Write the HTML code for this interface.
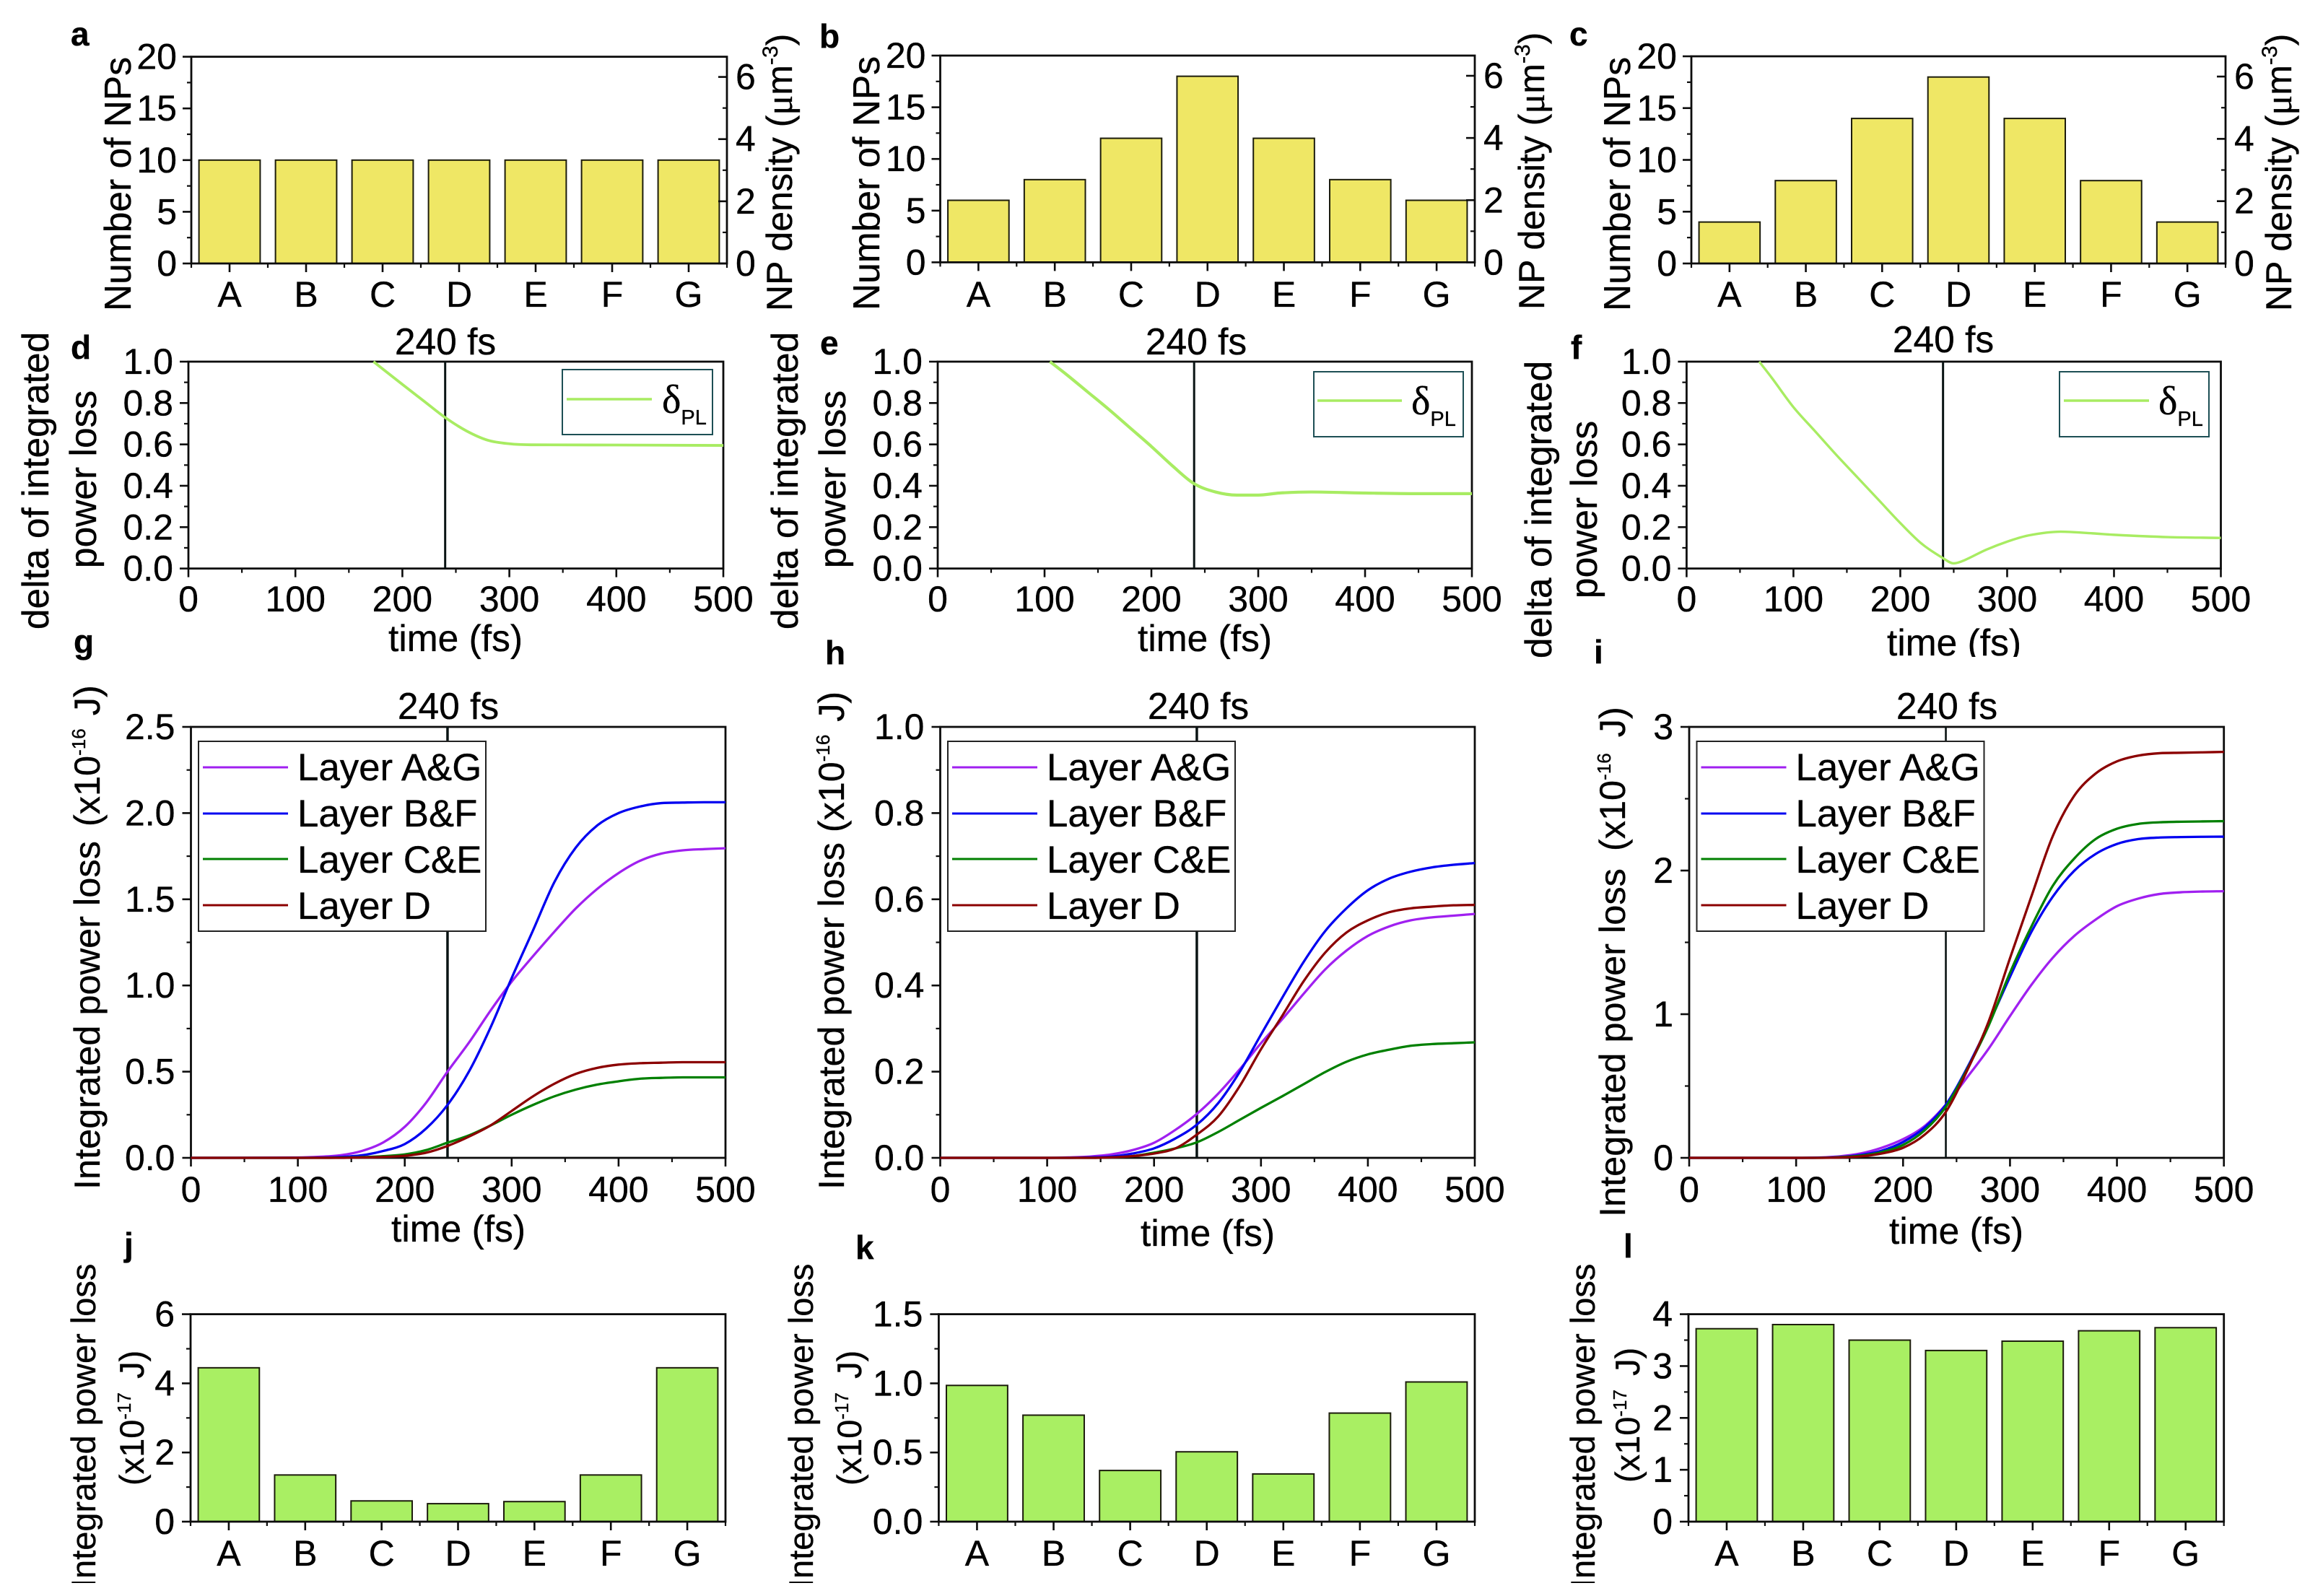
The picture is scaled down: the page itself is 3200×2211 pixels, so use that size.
<!DOCTYPE html>
<html lang="en">
<head>
<meta charset="utf-8">
<title>Nanoparticle layer distributions and integrated power loss</title>
<style>
html,body{margin:0;padding:0;background:#fff;}
svg{display:block;}
text{font-family:"Liberation Sans",sans-serif;fill:#000;stroke:#000;stroke-width:.35px;}
.tick{font-size:50px;}
.title{font-size:51.5px;}
.title4{font-size:47px;}
.letter{font-size:46px;font-weight:bold;}
.leg{font-size:52.8px;}
.serif{font-family:"Liberation Serif",serif;}
</style>
</head>
<body>
<svg id="figure" xmlns="http://www.w3.org/2000/svg" width="3200" height="2211" viewBox="0 0 3200 2211">
<rect width="3200" height="2211" fill="#fff"/>

<!-- Panel letters -->
<text class="letter" x="98" y="63">a</text>
<text class="letter" x="1135" y="66">b</text>
<text class="letter" x="2174" y="63">c</text>
<text class="letter" x="98" y="497">d</text>
<text class="letter" x="1136" y="491">e</text>
<text class="letter" x="2176" y="497">f</text>
<text class="letter" x="102" y="905">g</text>
<text class="letter" x="1143" y="920">h</text>
<text class="letter" x="2208" y="919">i</text>
<text class="letter" x="172" y="1740">j</text>
<text class="letter" x="1185" y="1744">k</text>
<text class="letter" x="2249" y="1742">l</text>

<!-- Panel groups: marks and axes are drawn by the script -->
<g id="panel-a"></g>
<g id="panel-b"></g>
<g id="panel-c"></g>
<g id="panel-d"></g>
<g id="panel-e"></g>
<g id="panel-f"></g>
<g id="panel-g"></g>
<g id="panel-h"></g>
<g id="panel-i"></g>
<g id="panel-j"></g>
<g id="panel-k"></g>
<g id="panel-l"></g>

<!-- Row 1 axis titles -->
<text class="title" text-anchor="middle" transform="translate(181,255) rotate(-90)">Number of NPs</text>
<text class="title" text-anchor="middle" transform="translate(1218,254) rotate(-90)">Number of NPs</text>
<text class="title" text-anchor="middle" transform="translate(2258,255) rotate(-90)">Number of NPs</text>
<text font-size="50" transform="translate(1097,431) rotate(-90)">NP density (<tspan class="serif" font-size="52">μ</tspan>m<tspan font-size="30" dy="-20">-3</tspan><tspan dy="20">)</tspan></text>
<text font-size="50" transform="translate(2139,429) rotate(-90)">NP density (<tspan class="serif" font-size="52">μ</tspan>m<tspan font-size="30" dy="-20">-3</tspan><tspan dy="20">)</tspan></text>
<text font-size="50" transform="translate(3174,431) rotate(-90)">NP density (<tspan class="serif" font-size="52">μ</tspan>m<tspan font-size="30" dy="-20">-3</tspan><tspan dy="20">)</tspan></text>

<!-- Row 2 axis titles -->
<text class="title" text-anchor="middle" transform="translate(67,666) rotate(-90)">delta of integrated</text>
<text class="title" text-anchor="middle" transform="translate(133,664) rotate(-90)">power loss</text>
<text class="title" text-anchor="middle" transform="translate(1105,666) rotate(-90)">delta of integrated</text>
<text class="title" text-anchor="middle" transform="translate(1171,664) rotate(-90)">power loss</text>
<text class="title" text-anchor="middle" transform="translate(2149,706) rotate(-90)">delta of integrated</text>
<text class="title" text-anchor="middle" transform="translate(2212,706) rotate(-90)">power loss</text>
<text class="title" text-anchor="middle" x="631" y="902">time (fs)</text>
<text class="title" text-anchor="middle" x="1669" y="902">time (fs)</text>
<text class="title" text-anchor="middle" x="2707" y="908">time (fs)</text>
<rect x="2600" y="910" width="230" height="12" fill="#fff"/>
<text class="title" text-anchor="middle" x="617" y="491">240 fs</text>
<text class="title" text-anchor="middle" x="1657" y="491">240 fs</text>
<text class="title" text-anchor="middle" x="2692" y="488">240 fs</text>

<!-- Delta legends -->
<g>
  <rect x="779" y="512" width="208" height="90" fill="#fff" stroke="#1d4f55" stroke-width="2"/>
  <line x1="785" y1="553" x2="903" y2="553" stroke="#a8ec62" stroke-width="3.5"/>
  <text class="serif" x="917" y="572" font-size="56">δ<tspan font-family="Liberation Sans" font-size="29" dy="16">PL</tspan></text>
</g>
<g>
  <rect x="1820" y="515" width="207" height="90" fill="#fff" stroke="#1d4f55" stroke-width="2"/>
  <line x1="1825" y1="555" x2="1942" y2="555" stroke="#a8ec62" stroke-width="3.5"/>
  <text class="serif" x="1955" y="574" font-size="56">δ<tspan font-family="Liberation Sans" font-size="29" dy="16">PL</tspan></text>
</g>
<g>
  <rect x="2853" y="515" width="207" height="90" fill="#fff" stroke="#1d4f55" stroke-width="2"/>
  <line x1="2859" y1="555" x2="2977" y2="555" stroke="#a8ec62" stroke-width="3.5"/>
  <text class="serif" x="2990" y="574" font-size="56">δ<tspan font-family="Liberation Sans" font-size="29" dy="16">PL</tspan></text>
</g>

<!-- Row 3 axis titles -->
<text font-size="50.5" transform="translate(138,1648) rotate(-90)">Integrated power loss<tspan dx="6"> (x10</tspan><tspan font-size="26" dy="-20">-16</tspan><tspan dy="20" dx="4"> J)</tspan></text>
<text font-size="50.3" transform="translate(1169,1648) rotate(-90)">Integrated power loss (x10<tspan font-size="26" dy="-20">-16</tspan><tspan dy="20" dx="4"> J)</tspan></text>
<text font-size="50.5" transform="translate(2251,1686) rotate(-90)">Integrated power loss<tspan dx="10"> (x10</tspan><tspan font-size="26" dy="-20">-16</tspan><tspan dy="20" dx="8"> J)</tspan></text>
<text class="title" text-anchor="middle" x="635" y="1720">time (fs)</text>
<text class="title" text-anchor="middle" x="1673" y="1726">time (fs)</text>
<text class="title" text-anchor="middle" x="2710" y="1723">time (fs)</text>
<text class="title" text-anchor="middle" x="621" y="996">240 fs</text>
<text class="title" text-anchor="middle" x="1660" y="996">240 fs</text>
<text class="title" text-anchor="middle" x="2697" y="996">240 fs</text>

<!-- Layer legends -->
<g>
  <rect x="275" y="1027" width="398" height="263" fill="#fff" stroke="#222" stroke-width="2"/>
  <line x1="281" y1="1063" x2="399" y2="1063" stroke="#a020f0" stroke-width="3"/>
  <line x1="281" y1="1127" x2="399" y2="1127" stroke="#0000f0" stroke-width="3"/>
  <line x1="281" y1="1190" x2="399" y2="1190" stroke="#008000" stroke-width="3"/>
  <line x1="281" y1="1254" x2="399" y2="1254" stroke="#8b0000" stroke-width="3"/>
  <text class="leg" x="412" y="1081">Layer A&amp;G</text>
  <text class="leg" x="412" y="1145">Layer B&amp;F</text>
  <text class="leg" x="412" y="1209">Layer C&amp;E</text>
  <text class="leg" x="412" y="1273">Layer D</text>
</g>
<g transform="translate(1038,0)">
  <rect x="275" y="1027" width="398" height="263" fill="#fff" stroke="#222" stroke-width="2"/>
  <line x1="281" y1="1063" x2="399" y2="1063" stroke="#a020f0" stroke-width="3"/>
  <line x1="281" y1="1127" x2="399" y2="1127" stroke="#0000f0" stroke-width="3"/>
  <line x1="281" y1="1190" x2="399" y2="1190" stroke="#008000" stroke-width="3"/>
  <line x1="281" y1="1254" x2="399" y2="1254" stroke="#8b0000" stroke-width="3"/>
  <text class="leg" x="412" y="1081">Layer A&amp;G</text>
  <text class="leg" x="412" y="1145">Layer B&amp;F</text>
  <text class="leg" x="412" y="1209">Layer C&amp;E</text>
  <text class="leg" x="412" y="1273">Layer D</text>
</g>
<g transform="translate(2075.5,0)">
  <rect x="275" y="1027" width="398" height="263" fill="#fff" stroke="#222" stroke-width="2"/>
  <line x1="281" y1="1063" x2="399" y2="1063" stroke="#a020f0" stroke-width="3"/>
  <line x1="281" y1="1127" x2="399" y2="1127" stroke="#0000f0" stroke-width="3"/>
  <line x1="281" y1="1190" x2="399" y2="1190" stroke="#008000" stroke-width="3"/>
  <line x1="281" y1="1254" x2="399" y2="1254" stroke="#8b0000" stroke-width="3"/>
  <text class="leg" x="412" y="1081">Layer A&amp;G</text>
  <text class="leg" x="412" y="1145">Layer B&amp;F</text>
  <text class="leg" x="412" y="1209">Layer C&amp;E</text>
  <text class="leg" x="412" y="1273">Layer D</text>
</g>

<!-- Row 4 axis titles -->
<text class="title4" transform="translate(132,2200) rotate(-90)">Integrated power loss</text>
<text class="title4" transform="translate(1126,2200) rotate(-90)">Integrated power loss</text>
<text class="title4" transform="translate(2209,2200) rotate(-90)">Integrated power loss</text>
<text class="title4" transform="translate(199,2058) rotate(-90)">(x10<tspan font-size="26" dy="-18">-17</tspan><tspan dy="18" dx="6"> J)</tspan></text>
<text class="title4" transform="translate(1193,2058) rotate(-90)">(x10<tspan font-size="26" dy="-18">-17</tspan><tspan dy="18" dx="6"> J)</tspan></text>
<text class="title4" transform="translate(2271,2054) rotate(-90)">(x10<tspan font-size="26" dy="-18">-17</tspan><tspan dy="18" dx="6"> J)</tspan></text>

<rect x="0" y="2193" width="3200" height="18" fill="#fff"/>
</svg>

<script>
// ---- Data ----
const categories = ['A', 'B', 'C', 'D', 'E', 'F', 'G'];

const npCountA = [10, 10, 10, 10, 10, 10, 10];
const npCountB = [6, 8, 12, 18, 12, 8, 6];
const npCountC = [4, 8, 14, 18, 14, 8, 4];

const lossBarsJ = [4.45, 1.35, 0.6, 0.52, 0.58, 1.35, 4.45];
const lossBarsK = [0.985, 0.77, 0.37, 0.505, 0.345, 0.785, 1.01];
const lossBarsL = [3.72, 3.8, 3.5, 3.3, 3.48, 3.68, 3.74];

const countTicks = [0, 5, 10, 15, 20];
const densityTicks = [0, 2, 4, 6];
const timeTicks = [0, 100, 200, 300, 400, 500];
const deltaTicks = ['0.0', '0.2', '0.4', '0.6', '0.8', '1.0'];
const lossTicksG = ['0.0', '0.5', '1.0', '1.5', '2.0', '2.5'];
const lossTicksH = ['0.0', '0.2', '0.4', '0.6', '0.8', '1.0'];
const lossTicksI = ['0', '1', '2', '3'];
const barTicksJ = ['0', '2', '4', '6'];
const barTicksK = ['0.0', '0.5', '1.0', '1.5'];
const barTicksL = ['0', '1', '2', '3', '4'];

const markerTime = 240;

const deltaTimesD = [173, 200, 220, 240, 260, 280, 300, 320, 400, 500];
const deltaValuesD = [1, 0.89, 0.81, 0.73, 0.665, 0.62, 0.603, 0.598, 0.597, 0.595];
const deltaTimesE = [105, 120, 140, 160, 180, 200, 220, 240, 260, 280, 300, 320, 350, 400, 450, 500];
const deltaValuesE = [1, 0.94, 0.855, 0.77, 0.68, 0.59, 0.495, 0.41, 0.37, 0.355, 0.355, 0.365, 0.37, 0.365, 0.362, 0.362];
const deltaTimesF = [68, 80, 100, 120, 140, 160, 180, 200, 220, 240, 250, 260, 280, 300, 320, 350, 380, 400, 450, 500];
const deltaValuesF = [1, 0.92, 0.78, 0.665, 0.55, 0.44, 0.33, 0.22, 0.12, 0.05, 0.025, 0.04, 0.09, 0.13, 0.16, 0.178, 0.17, 0.163, 0.152, 0.148];

const curveTimes = [0, 100, 120, 140, 160, 180, 200, 220, 240, 260, 280, 300, 320, 340, 360, 380, 400, 420, 440, 460, 480, 500];

const panelGLayerAG = [0, 0.002, 0.006, 0.015, 0.04, 0.09, 0.18, 0.32, 0.50, 0.668, 0.852, 1.022, 1.17, 1.312, 1.447, 1.56, 1.652, 1.723, 1.765, 1.784, 1.791, 1.796];
const panelGLayerBF = [0, 0, 0.001, 0.005, 0.015, 0.04, 0.08, 0.17, 0.307, 0.50, 0.753, 1.043, 1.32, 1.60, 1.80, 1.928, 2.0, 2.038, 2.058, 2.061, 2.063, 2.063];
const panelGLayerCE = [0, 0, 0, 0.001, 0.004, 0.01, 0.02, 0.045, 0.088, 0.13, 0.187, 0.25, 0.307, 0.357, 0.396, 0.425, 0.444, 0.459, 0.464, 0.467, 0.467, 0.467];
const panelGLayerD = [0, 0, 0, 0, 0.002, 0.005, 0.012, 0.03, 0.069, 0.123, 0.187, 0.272, 0.357, 0.43, 0.487, 0.522, 0.541, 0.549, 0.552, 0.555, 0.555, 0.555];

const panelHLayerAG = [0, 0, 0.001, 0.003, 0.008, 0.018, 0.035, 0.065, 0.102, 0.149, 0.205, 0.266, 0.322, 0.381, 0.437, 0.481, 0.515, 0.537, 0.551, 0.558, 0.562, 0.566];
const panelHLayerBF = [0, 0, 0, 0.001, 0.003, 0.01, 0.022, 0.045, 0.077, 0.127, 0.199, 0.286, 0.372, 0.455, 0.526, 0.579, 0.621, 0.648, 0.664, 0.674, 0.68, 0.684];
const panelHLayerCE = [0, 0, 0, 0, 0.001, 0.004, 0.012, 0.022, 0.036, 0.06, 0.088, 0.116, 0.143, 0.171, 0.199, 0.223, 0.24, 0.251, 0.26, 0.264, 0.266, 0.268];
const panelHLayerD = [0, 0, 0, 0, 0.001, 0.004, 0.01, 0.022, 0.054, 0.096, 0.166, 0.252, 0.33, 0.41, 0.476, 0.523, 0.551, 0.57, 0.579, 0.583, 0.586, 0.587];

const panelILayerAG = [0, 0, 0.002, 0.01, 0.03, 0.07, 0.13, 0.22, 0.37, 0.561, 0.76, 0.987, 1.204, 1.393, 1.544, 1.658, 1.752, 1.805, 1.837, 1.849, 1.854, 1.856];
const panelILayerBF = [0, 0, 0.001, 0.005, 0.02, 0.05, 0.11, 0.21, 0.37, 0.628, 0.93, 1.26, 1.573, 1.818, 1.998, 2.115, 2.185, 2.219, 2.23, 2.233, 2.235, 2.236];
const panelILayerCE = [0, 0, 0, 0.004, 0.015, 0.04, 0.09, 0.19, 0.355, 0.618, 0.92, 1.289, 1.61, 1.894, 2.083, 2.219, 2.291, 2.325, 2.336, 2.34, 2.342, 2.344];
const panelILayerD = [0, 0, 0, 0.002, 0.01, 0.03, 0.07, 0.16, 0.32, 0.609, 0.949, 1.39, 1.82, 2.24, 2.52, 2.675, 2.76, 2.80, 2.817, 2.82, 2.823, 2.826];

// ---- Drawing ----
const SVGNS = 'http://www.w3.org/2000/svg';

function make(parent, tag, attrs, content) {
  const el = document.createElementNS(SVGNS, tag);
  for (const k in attrs) el.setAttribute(k, attrs[k]);
  if (content !== undefined) el.textContent = content;
  parent.appendChild(el);
  return el;
}

function linearScale(min, max, p0, p1) {
  return function (v) { return p0 + (v - min) / (max - min) * (p1 - p0); };
}

function smoothPath(px, py) {
  const n = px.length;
  const d = [], m = [];
  for (let i = 0; i < n - 1; i++) d.push((py[i + 1] - py[i]) / (px[i + 1] - px[i]));
  m.push(d[0]);
  for (let i = 1; i < n - 1; i++) {
    if (d[i - 1] * d[i] <= 0) { m.push(0); continue; }
    const central = (py[i + 1] - py[i - 1]) / (px[i + 1] - px[i - 1]);
    const limit = 3 * Math.min(Math.abs(d[i - 1]), Math.abs(d[i]));
    m.push(Math.sign(central) * Math.min(Math.abs(central), limit));
  }
  m.push(d[n - 2]);
  let s = 'M' + px[0].toFixed(2) + ' ' + py[0].toFixed(2);
  for (let i = 0; i < n - 1; i++) {
    const h = (px[i + 1] - px[i]) / 3;
    s += 'C' + (px[i] + h).toFixed(2) + ' ' + (py[i] + m[i] * h).toFixed(2) + ' ' +
      (px[i + 1] - h).toFixed(2) + ' ' + (py[i + 1] - m[i + 1] * h).toFixed(2) + ' ' +
      px[i + 1].toFixed(2) + ' ' + py[i + 1].toFixed(2);
  }
  return s;
}

function drawFrame(g, id, box) {
  const frame = make(g, 'rect', { x: box.l, y: box.t, width: box.r - box.l, height: box.b - box.t, fill: 'none', stroke: '#0c0c0c', 'stroke-width': 2.8 });
  
  
}

function drawYTick(g, id, yPos, side, x, len, major) {
  const line = make(g, 'line', { x1: x, x2: x + side * len, y1: yPos, y2: yPos, stroke: '#0c0c0c', 'stroke-width': major ? 2.6 : 2.2 });
  
  
}

function drawXTick(g, id, xPos, y, len, major) {
  const line = make(g, 'line', { x1: xPos, x2: xPos, y1: y, y2: y + len, stroke: '#0c0c0c', 'stroke-width': major ? 2.6 : 2.2 });
  
  
}

function drawYAxis(g, id, box, yMax, tickLabels) {
  const y = linearScale(0, yMax, box.b, box.t);
  const step = yMax / (tickLabels.length - 1);
  tickLabels.forEach(function (label, i) {
    const v = i * step;
    drawYTick(g, 'y-tick-' + id + '-' + label, y(v), -1, box.l, 12, true);
    if (i < tickLabels.length - 1) drawYTick(g, 'y-minor-tick-' + id + '-' + i, y(v + step / 2), -1, box.l, 6, false);
    const t = make(g, 'text', { class: 'tick', x: box.l - box.labelGap, y: y(v) + 17, 'text-anchor': 'end' }, label);
    
    
  });
}

function drawCategoryAxis(g, id, box, baseline) {
  const band = (box.r - box.l) / categories.length;
  categories.forEach(function (cat, i) {
    const cx = box.l + band * (i + 0.5);
    drawXTick(g, 'x-tick-' + id + '-' + cat, cx, box.b, 12, true);
    drawXTick(g, 'x-minor-tick-' + id + '-' + i, box.l + band * i, box.b, 6, false);
    const t = make(g, 'text', { class: 'tick', x: cx, y: baseline, 'text-anchor': 'middle' }, cat);
    
    
  });
  drawXTick(g, 'x-minor-tick-' + id + '-end', box.r, box.b, 6, false);
}

function drawBars(g, id, box, values, yMax, fill) {
  const y = linearScale(0, yMax, box.b, box.t);
  const band = (box.r - box.l) / categories.length;
  values.forEach(function (v, i) {
    const bar = make(g, 'rect', {
      x: box.l + band * (i + 0.1), y: y(v), width: band * 0.8, height: box.b - y(v),
      fill: fill, stroke: '#1c1c0c', 'stroke-width': 2
    });
    
    
  });
}

function drawDensityAxis(g, id, box, densityMax) {
  const y = linearScale(0, densityMax, box.b, box.t);
  densityTicks.forEach(function (v, i) {
    drawYTick(g, 'right-tick-' + id + '-' + v, y(v), -1, box.r, 12, true);
    if (v + 1 <= densityMax) drawYTick(g, 'right-minor-tick-' + id + '-' + i, y(v + 1), -1, box.r, 6, false);
    const t = make(g, 'text', { class: 'tick', x: box.r + 12, y: y(v) + 17 }, String(v));
    
    
  });
}

function drawTimeAxis(g, id, box, baseline) {
  const x = linearScale(0, 500, box.l, box.r);
  timeTicks.forEach(function (v, i) {
    drawXTick(g, 'x-tick-' + id + '-' + v, x(v), box.b, 12, true);
    if (i < timeTicks.length - 1) drawXTick(g, 'x-minor-tick-' + id + '-' + i, x(v + 50), box.b, 6, false);
    const t = make(g, 'text', { class: 'tick', x: x(v), y: baseline, 'text-anchor': 'middle' }, String(v));
    
    
  });
}

function drawMarker(g, id, box, width) {
  const x = linearScale(0, 500, box.l, box.r);
  const line = make(g, 'line', { x1: x(markerTime), x2: x(markerTime), y1: box.t, y2: box.b, stroke: '#0a1414', 'stroke-width': width });
  
  
}

function drawCurve(g, name, box, yMax, times, values, color, width) {
  const x = linearScale(0, 500, box.l, box.r);
  const y = linearScale(0, yMax, box.b, box.t);
  const path = make(g, 'path', {
    d: smoothPath(times.map(x), values.map(y)),
    fill: 'none', stroke: color, 'stroke-width': width, 'stroke-linejoin': 'round'
  });
  
  
}

function byId(id) { return document.getElementById('panel-' + id); }

// Bar panels a-c
function barPanelTop(id, box, values) {
  const g = byId(id);
  box.labelGap = 20;
  drawBars(g, id, box, values, 20, '#efe765');
  drawFrame(g, id, box);
  drawYAxis(g, id, box, 20, countTicks.map(String));
  drawDensityAxis(g, id, box, 6.65);
  drawCategoryAxis(g, id, box, 425);
}
barPanelTop('a', { l: 265, r: 1007, t: 78.6, b: 365 }, npCountA);
barPanelTop('b', { l: 1302.5, r: 2043, t: 77, b: 363.4 }, npCountB);
barPanelTop('c', { l: 2343, r: 3083, t: 78, b: 365 }, npCountC);

// Delta panels d-f
function deltaPanel(id, box, times, values, width) {
  const g = byId(id);
  box.labelGap = 21;
  drawFrame(g, id, box);
  drawYAxis(g, id, box, 1, deltaTicks);
  drawTimeAxis(g, id, box, 847);
  drawMarker(g, id, box, 3);
  drawCurve(g, 'delta-curve-' + id, box, 1, times, values, '#a8ec62', width);
}
deltaPanel('d', { l: 261, r: 1002, t: 501, b: 787.6 }, deltaTimesD, deltaValuesD, 3.8);
deltaPanel('e', { l: 1299, r: 2039, t: 501, b: 787.6 }, deltaTimesE, deltaValuesE, 4.2);
deltaPanel('f', { l: 2336.4, r: 3076.5, t: 501, b: 787.6 }, deltaTimesF, deltaValuesF, 3.4);

// Layer curve panels g-i
function lossPanel(id, box, yMax, ticks, ag, bf, ce, d, markerWidth) {
  const g = byId(id);
  box.labelGap = 22;
  drawFrame(g, id, box);
  drawYAxis(g, id, box, yMax, ticks);
  drawTimeAxis(g, id, box, 1665);
  drawMarker(g, id, box, markerWidth);
  drawCurve(g, 'curve-layer-ag-' + id, box, yMax, curveTimes, ag, '#a020f0', 3.3);
  drawCurve(g, 'curve-layer-bf-' + id, box, yMax, curveTimes, bf, '#0000f0', 3.3);
  drawCurve(g, 'curve-layer-ce-' + id, box, yMax, curveTimes, ce, '#008000', 3.3);
  drawCurve(g, 'curve-layer-d-' + id, box, yMax, curveTimes, d, '#8b0000', 3.3);
}
lossPanel('g', { l: 264.5, r: 1005, t: 1007, b: 1604 }, 2.5, lossTicksG, panelGLayerAG, panelGLayerBF, panelGLayerCE, panelGLayerD, 3.5);
lossPanel('h', { l: 1302.5, r: 2043, t: 1007, b: 1604 }, 1, lossTicksH, panelHLayerAG, panelHLayerBF, panelHLayerCE, panelHLayerD, 3.5);
lossPanel('i', { l: 2340, r: 3080.7, t: 1007, b: 1604 }, 3, lossTicksI, panelILayerAG, panelILayerBF, panelILayerCE, panelILayerD, 2.6);

// Bar panels j-l
function barPanelBottom(id, box, values, yMax, ticks) {
  const g = byId(id);
  box.labelGap = 22;
  drawBars(g, id, box, values, yMax, '#a9ef63');
  drawFrame(g, id, box);
  drawYAxis(g, id, box, yMax, ticks);
  drawCategoryAxis(g, id, box, 2169);
}
barPanelBottom('j', { l: 264, r: 1005, t: 1820.6, b: 2108 }, lossBarsJ, 6, barTicksJ);
barPanelBottom('k', { l: 1300.4, r: 2043, t: 1820.6, b: 2108 }, lossBarsK, 1.5, barTicksK);
barPanelBottom('l', { l: 2339, r: 3080.7, t: 1820.6, b: 2108 }, lossBarsL, 4, barTicksL);
</script>
</body>
</html>
